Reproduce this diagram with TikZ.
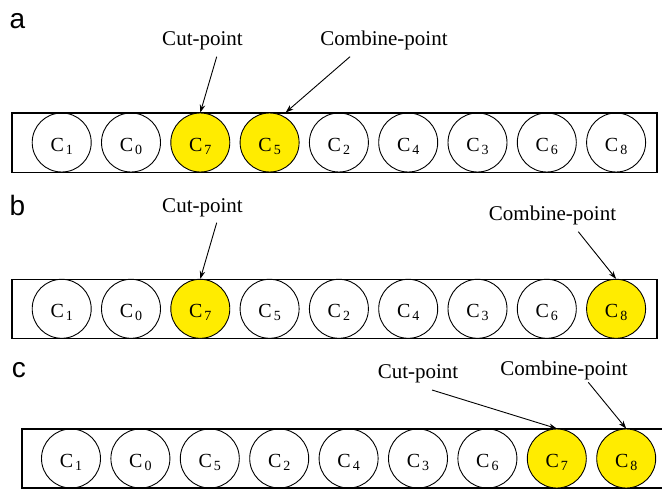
\documentclass[tikz,border=0pt]{standalone}
\usepackage{fontspec}
\setmainfont{Liberation Serif}
\newfontfamily\labfont{Liberation Sans}
\usetikzlibrary{arrows.meta,calc}
\definecolor{cyel}{RGB}{255,236,0}
\newcommand{\cname}[1]{C\kern2pt\raisebox{-3pt}{\fontsize{14}{14}\selectfont #1}}
\tikzset{
  cell/.style={circle,draw,line width=0.9pt,minimum size=59pt,inner sep=0pt,
    font=\fontsize{20}{20}\selectfont,text height=18pt,text depth=0pt},
  hot/.style={cell,fill=cyel},
  strip/.style={draw,line width=1.1pt},
  note/.style={font=\fontsize{21}{21}\selectfont,anchor=base,inner sep=0pt},
  panel/.style={font=\labfont\fontsize{28}{28}\selectfont,anchor=base,inner sep=0pt},
  arr/.style={-{Stealth[length=8pt,width=5.5pt]},line width=0.9pt}
}
\begin{document}
\begin{tikzpicture}[x=1pt,y=-1pt]
\useasboundingbox (0,0) rectangle (662,491);
\clip (0,0) rectangle (662,491);
\fill[white] (0,0) rectangle (662,491);

% ---------- panel a ----------
\node[panel] (pa) at (17.5,28) {a};
\draw[strip] (12,113) rectangle (657,172.5);
\foreach \i/\lab/\sty in {1/1/cell,2/0/cell,3/7/hot,4/5/hot,5/2/cell,6/4/cell,7/3/cell,8/6/cell,9/8/cell}{
  \node[\sty] (a\i) at ({61.7+69.3*(\i-1)},142.5) {\cname{\lab}};
}
\node[note] (cuta) at (202.5,45) {Cut-point};
\node[note] (coma) at (384,45) {Combine-point};
\coordinate (cuta0) at (216.7,56.7);
\coordinate (coma0) at (350,56.7);
\draw[arr] (cuta0) -- (a3.north);
\draw[arr] (coma0) -- ($(a4.north)+(16,0)$);

% ---------- panel b ----------
\node[panel] (pb) at (17.5,215) {b};
\draw[strip] (12,279.3) rectangle (657,338.3);
\foreach \i/\lab/\sty in {1/1/cell,2/0/cell,3/7/hot,4/5/cell,5/2/cell,6/4/cell,7/3/cell,8/6/cell,9/8/hot}{
  \node[\sty] (b\i) at ({61.7+69.3*(\i-1)},308.8) {\cname{\lab}};
}
\node[note] (cutb) at (202.5,212) {Cut-point};
\node[note] (comb) at (552.5,220) {Combine-point};
\coordinate (cutb0) at (216.7,222.7);
\coordinate (comb0) at (578.3,231.7);
\draw[arr] (cutb0) -- (b3.north);
\draw[arr] (comb0) -- (b9.north);

% ---------- panel c ----------
\node[panel] (pc) at (19,377) {c};
\draw[strip] (22,429) rectangle (700,488);
\foreach \i/\lab/\sty in {1/1/cell,2/0/cell,3/5/cell,4/2/cell,5/4/cell,6/3/cell,7/6/cell,8/7/hot,9/8/hot}{
  \node[\sty] (c\i) at ({71+69.4*(\i-1)},458.5) {\cname{\lab}};
}
\node[note] (cutc) at (418,378) {Cut-point};
\node[note] (comc) at (564,375) {Combine-point};
\coordinate (cutc0) at (432,390);
\coordinate (comc0) at (588.3,382.3);
\draw[arr] (cutc0) -- (c8.north);
\draw[arr] (comc0) -- (c9.north);
\end{tikzpicture}
\end{document}
